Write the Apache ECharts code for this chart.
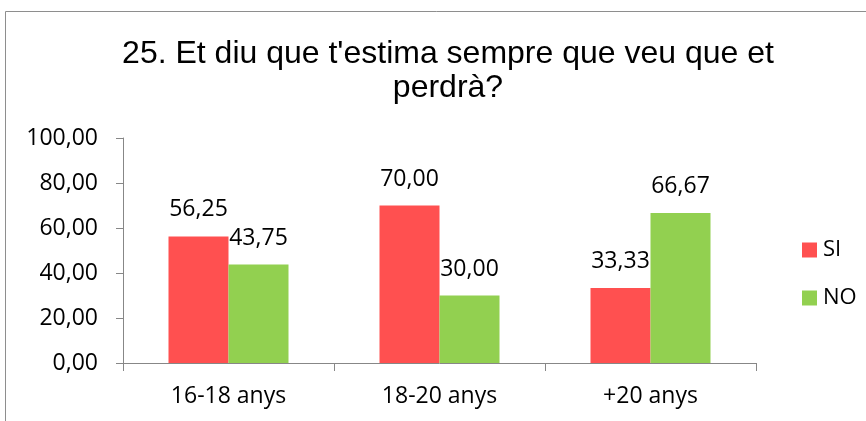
<!DOCTYPE html>
<html>
<head>
<meta charset="utf-8">
<script src="https://cdn.jsdelivr.net/npm/echarts@6/dist/echarts.min.js"></script>
<style>
  html, body { margin: 0; padding: 0; background: #fff; }
  #chart { width: 866px; height: 421px; }
</style>
</head>
<body>
<div id="chart"></div>
<script>
const categories = ['16-18 anys', '18-20 anys', '+20 anys']
const siValues = [56.25, 70.00, 33.33]
const noValues = [43.75, 30.00, 66.67]
const yTicks = { min: 0, max: 100, interval: 20 }

// comma as decimal separator, two decimals
function fmt (v) {
  return Number(v).toFixed(2).replace('.', ',')
}

const labelFont = 'Open Sans'
const chart = echarts.init(document.getElementById('chart'))

const option = {
  animation: false,
  backgroundColor: '#fff',
  graphic: [{
    type: 'rect',
    shape: { x: 5.5, y: 11.5, width: 900, height: 500 },
    style: { fill: 'none', stroke: '#8e8e8e', lineWidth: 1 },
    silent: true
  }],
  title: {
    text: "25. Et diu que t'estima sempre que veu que et\nperdrà?",
    left: 443,
    top: 32,
    textAlign: 'center',
    textStyle: {
      fontFamily: 'Liberation Sans',
      fontSize: 32,
      fontWeight: 'normal',
      color: '#000',
      lineHeight: 34
    }
  },
  legend: {
    orient: 'vertical',
    left: 797,
    top: 234,
    itemWidth: 15,
    itemHeight: 15,
    itemGap: 26,
    icon: 'rect',
    textStyle: { fontFamily: labelFont, fontSize: 22, color: '#000', padding: [0, 0, 0, 1] },
    data: ['SI', 'NO']
  },
  grid: { left: 123, right: 110, top: 138, bottom: 58 },
  xAxis: {
    type: 'category',
    data: categories,
    axisLine: { lineStyle: { color: '#878787', width: 1 } },
    axisTick: { show: true, length: 8, lineStyle: { color: '#878787' } },
    axisLabel: { margin: 22, fontFamily: labelFont, fontSize: 23, color: '#000' }
  },
  yAxis: {
    type: 'value',
    min: yTicks.min,
    max: yTicks.max,
    interval: yTicks.interval,
    splitLine: { show: false },
    axisLine: { show: true, lineStyle: { color: '#878787', width: 1 } },
    axisTick: { show: true, length: 7, lineStyle: { color: '#878787' } },
    axisLabel: { margin: 25, fontFamily: labelFont, fontSize: 23, color: '#000', formatter: fmt }
  },
  series: [
    {
      name: 'SI',
      type: 'bar',
      data: siValues,
      barWidth: 60,
      barGap: '0%',
      itemStyle: { color: '#FF5050' },
      label: { show: true, position: 'top', distance: 15, fontFamily: labelFont, fontSize: 23, color: '#000', formatter: p => fmt(p.value) }
    },
    {
      name: 'NO',
      type: 'bar',
      data: noValues,
      barWidth: 60,
      itemStyle: { color: '#92D050' },
      label: { show: true, position: 'top', distance: 15, fontFamily: labelFont, fontSize: 23, color: '#000', formatter: p => fmt(p.value) }
    }
  ]
}

chart.setOption(option)
</script>
</body>
</html>
